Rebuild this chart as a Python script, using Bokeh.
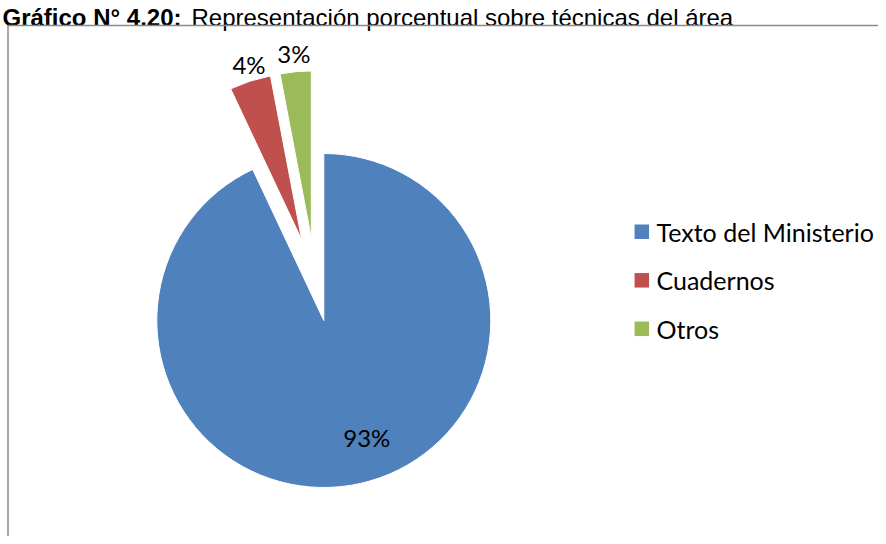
import math
from bokeh.plotting import figure
from bokeh.models import Range1d, ColumnDataSource
from bokeh.core.properties import value
from bokeh.embed import file_html
from bokeh.resources import INLINE

title_bold = "Gráfico N° 4.20:"
title_rest = "Representación porcentual sobre técnicas del área"
categories = ["Texto del Ministerio", "Cuadernos", "Otros"]
percent = [93, 4, 3]
labels = ["93%", "4%", "3%"]
colors = ["#4F81BD", "#C0504D", "#9BBB59"]
explode = [0.0, 0.5, 0.5]

W, H = 878, 536
p = figure(width=W, height=H, output_backend="svg", toolbar_location=None,
           x_range=Range1d(0, W), y_range=Range1d(0, H), min_border=0)
p.axis.visible = False
p.grid.visible = False
p.outline_line_color = None
p.background_fill_color = "white"
p.border_fill_color = "white"

# title
p.text(x=[2], y=[H - 17], text=[title_bold], text_font=value("Liberation Sans"),
       text_font_size="24px", text_font_style="bold", text_color="#000000",
       text_align="left", text_baseline="alphabetic")
p.text(x=[191], y=[H - 17], text=[title_rest], text_font=value("Liberation Sans"),
       text_font_size="24px", text_color="#000000",
       text_align="left", text_baseline="alphabetic")

# chart area frame (extends beyond the visible page)
p.line(x=[7.5, 7.5, W + 20], y=[-20, H - 25, H - 25], line_color="#8a8a8a", line_width=1.5)

cx, cy, r = 323.3, H - 320.0, 167.0
total = float(sum(percent))
explode_dir_nudge = [0.0, -2.7, 3.2]
label_r = [0.746, 1.10, 1.11]
label_nudge = [7.6, -1.3, 0.0]
cum = 0.0
xs, ys, starts, ends = [], [], [], []
lx, ly = [], []
for i, v in enumerate(percent):
    a0 = 90 - cum / total * 360
    cum += v
    a1 = 90 - cum / total * 360
    mid = (a0 + a1) / 2
    ed = math.radians(mid + explode_dir_nudge[i])
    ox = cx + explode[i] * r * math.cos(ed)
    oy = cy + explode[i] * r * math.sin(ed)
    xs.append(ox); ys.append(oy)
    starts.append(math.radians(a0)); ends.append(math.radians(a1))
    la = math.radians(mid + label_nudge[i])
    lx.append(ox + label_r[i] * r * math.cos(la))
    ly.append(oy + label_r[i] * r * math.sin(la))

src = ColumnDataSource(dict(x=xs, y=ys, start=starts, end=ends, color=colors))
p.wedge(x="x", y="y", radius=r, start_angle="start", end_angle="end",
        direction="clock", fill_color="color", line_color="white", line_width=1,
        source=src)

p.text(x=lx, y=ly, text=labels, text_font=value("Lato"), text_font_size="24px",
       text_color="#000000", text_align="center", text_baseline="middle")

# legend
leg_x, leg_y0, leg_dy = 641.3, H - 231.3, 48.5
lgx = [leg_x] * len(categories)
lgy = [leg_y0 - i * leg_dy for i in range(len(categories))]
p.rect(x=lgx, y=lgy, width=14.5, height=14.5, fill_color=colors, line_color=None)
p.text(x=[656] * len(categories), y=lgy, text=categories,
       text_font=value("Lato"), text_font_size="25px", text_color="#000000",
       text_align="left", text_baseline="middle")

open("out.html", "w").write(file_html(p, INLINE))
